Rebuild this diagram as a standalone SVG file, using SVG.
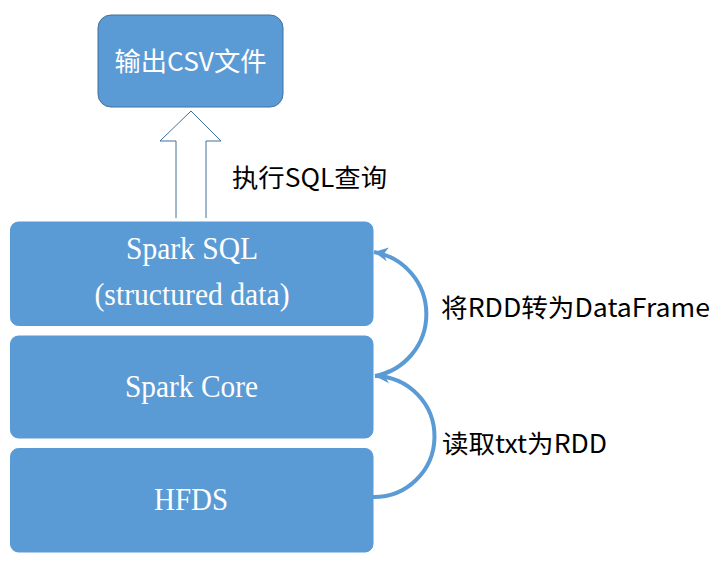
<svg xmlns="http://www.w3.org/2000/svg" width="717" height="570" viewBox="0 0 717 570">
  <style>
    .box { fill: #5B9BD5; stroke: #5B9BD5; stroke-width: 1; }
    .top { fill: #5B9BD5; stroke: #41719C; stroke-width: 1; }
    .serif { font-family: "Liberation Serif", "Times New Roman", serif; font-size: 32px; fill: #FFFFFF; text-anchor: middle; }
    .cjkw { font-family: "Noto Sans CJK SC", "Noto Sans", sans-serif; font-size: 26px; fill: #FFFFFF; text-anchor: middle; }
    .lbl { font-family: "Noto Sans CJK SC", "Noto Sans", sans-serif; font-size: 25px; fill: #000000; }
    .curve { fill: none; stroke: #5B9BD5; stroke-width: 4; }
  </style>
  <defs>
    <marker id="head" markerUnits="userSpaceOnUse" viewBox="0 0 16 16" refX="15" refY="8" markerWidth="16" markerHeight="16" orient="auto">
      <path d="M15,8 L1,1 L5,8 L1,15 Z" fill="#5B9BD5"/>
    </marker>
  </defs>
  <rect width="717" height="570" fill="#FFFFFF"/>

  <g id="node-output">
    <rect class="top" x="98" y="15" width="185" height="92" rx="13" ry="13"/>
    <text class="cjkw" x="190.5" y="71" textLength="152" lengthAdjust="spacingAndGlyphs">输出CSV文件</text>
  </g>

  <g id="node-sparksql">
    <rect class="box" x="10.5" y="222" width="362.5" height="103.5" rx="8" ry="8"/>
    <text class="serif" x="192" y="259" textLength="132" lengthAdjust="spacingAndGlyphs">Spark SQL</text>
    <text class="serif" x="192" y="305" textLength="195" lengthAdjust="spacingAndGlyphs">(structured data)</text>
  </g>

  <g id="node-sparkcore">
    <rect class="box" x="10.5" y="336" width="362.5" height="102" rx="8" ry="8"/>
    <text class="serif" x="191.5" y="397" textLength="133" lengthAdjust="spacingAndGlyphs">Spark Core</text>
  </g>

  <g id="node-hfds">
    <rect class="box" x="10.5" y="448.5" width="362.5" height="103.5" rx="8" ry="8"/>
    <text class="serif" x="191" y="510" textLength="74" lengthAdjust="spacingAndGlyphs">HFDS</text>
  </g>

  <g id="connectors">
    <path d="M176,218 L176,141 L160,141 L191,111 L221,141 L206,141 L206,218" fill="#FFFFFF" stroke="#41719C" stroke-width="1"/>
    <path class="curve" d="M373,497 A60,60 0 0 0 375,376" marker-end="url(#head)"/>
    <path class="curve" d="M375,376 A63,63 0 0 0 374,252" marker-end="url(#head)"/>
  </g>

  <g id="labels">
    <text class="lbl" x="232" y="187" textLength="155" lengthAdjust="spacingAndGlyphs">执行SQL查询</text>
    <text class="lbl" x="441" y="317" textLength="269" lengthAdjust="spacingAndGlyphs">将RDD转为DataFrame</text>
    <text class="lbl" x="442" y="453" textLength="165" lengthAdjust="spacingAndGlyphs">读取txt为RDD</text>
  </g>
</svg>
